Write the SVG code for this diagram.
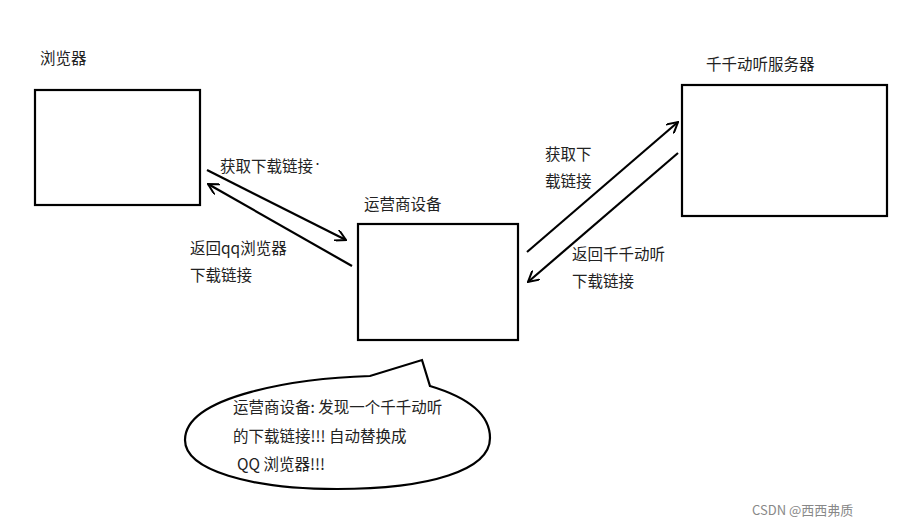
<svg xmlns="http://www.w3.org/2000/svg" width="914" height="527" viewBox="0 0 914 527">
<style>
.b{fill:none;stroke:#000;stroke-width:2.2}
text{font-family:"Noto Sans CJK SC","Noto Sans",sans-serif;font-size:15.5px;fill:#222}
.w{font-size:13px;fill:#888}
</style>
<defs><marker id="a" viewBox="0 0 12 12" refX="11" refY="6" markerWidth="12" markerHeight="12" markerUnits="userSpaceOnUse" orient="auto"><path d="M0,0 L11,6 L0,12" fill="none" stroke="#000" stroke-width="2"/></marker></defs>
<rect width="914" height="527" fill="#fff"/>
<g id="browser"><rect class="b" x="35" y="90" width="165" height="115"/><text x="40" y="64">浏览器</text></g>
<g id="operator"><rect class="b" x="358" y="224" width="160" height="116"/><text x="364" y="210">运营商设备</text></g>
<g id="server"><rect class="b" x="682" y="85" width="205" height="131"/><text x="706" y="70">千千动听服务器</text></g>
<g id="connectors">
<line class="b" x1="207" y1="170" x2="346" y2="240" marker-end="url(#a)"/>
<line class="b" x1="352" y1="266" x2="208" y2="184" marker-end="url(#a)"/>
<line class="b" x1="527" y1="252" x2="678" y2="122" marker-end="url(#a)"/>
<line class="b" x1="678" y1="153" x2="528" y2="282" marker-end="url(#a)"/>
</g>
<text x="220" y="172">获取下载链接<tspan font-size="9" dy="-5">•</tspan></text>
<text x="190" y="254">返回qq浏览器</text><text x="190" y="281">下载链接</text>
<text x="545" y="160">获取下</text><text x="545" y="187">载链接</text>
<text x="572" y="260">返回千千动听</text><text x="572" y="287">下载链接</text>
<g id="callout">
<path class="b" d="M370,376 C300,378 185,395 185,440 C185,470 250,489 337,489 C430,489 490,470 490,438 C490,410 460,395 430,386 L422,360 Z"/>
<text x="233" y="413" font-size="16">运营商设备: 发现一个千千动听</text>
<text x="233" y="442" font-size="16">的下载链接!!! 自动替换成</text>
<text x="237" y="470" font-size="16">QQ 浏览器!!!</text>
</g>
<text class="w" x="752" y="515">CSDN @西西弗质</text>
</svg>
